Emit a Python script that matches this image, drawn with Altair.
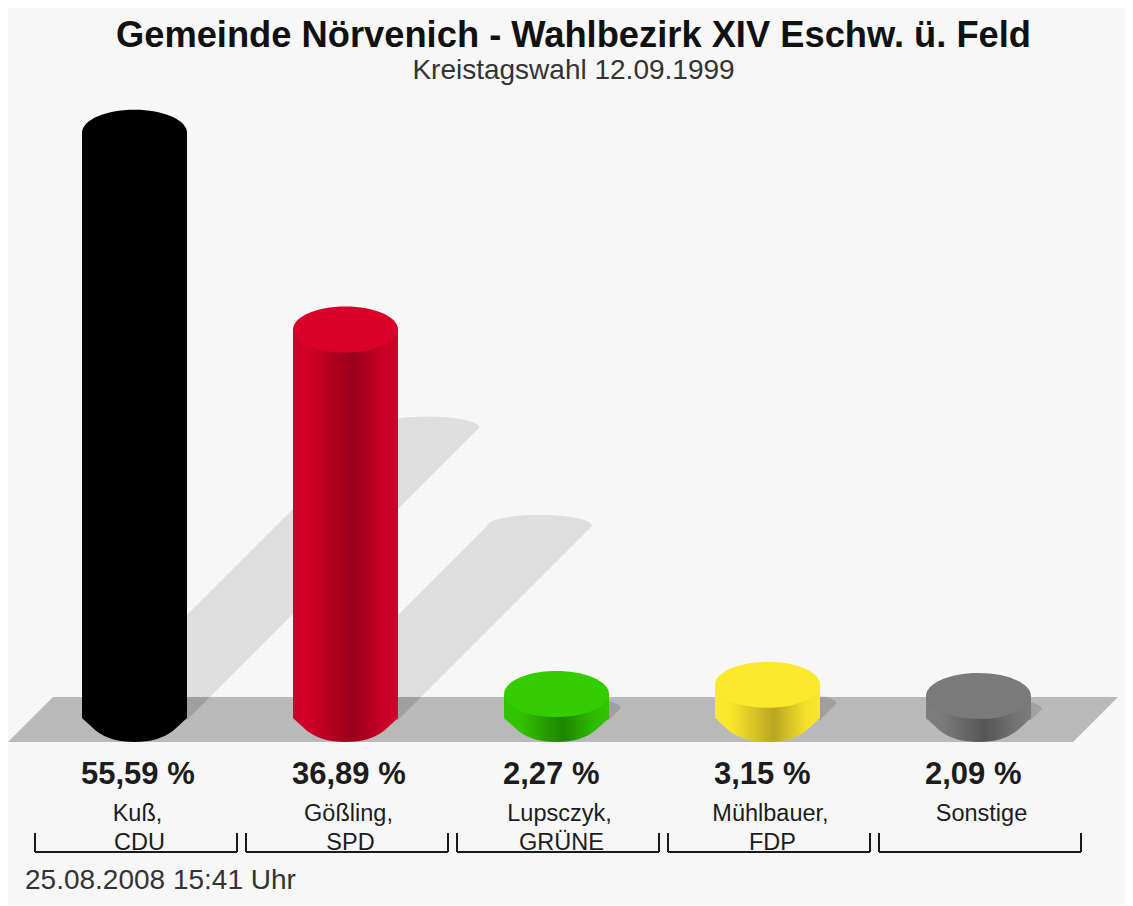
import altair as alt
import numpy as np
import pandas as pd

# --- chart values
names_1 = ["Kuß,", "Gößling,", "Lupsczyk,", "Mühlbauer,", "Sonstige"]
names_2 = ["CDU", "SPD", "GRÜNE", "FDP", ""]
percent = [55.59, 36.89, 2.27, 3.15, 2.09]
labels = ["55,59 %", "36,89 %", "2,27 %", "3,15 %", "2,09 %"]
top_colors = ["#000000", "#d90029", "#33cc00", "#fde92b", "#7a7a7a"]
side_light = ["#000000", "#d20028", "#33c400", "#fbe82c", "#7c7c7c"]
side_right = ["#000000", "#c80026", "#30bc00", "#f2e02a", "#747474"]
side_dark = ["#000000", "#98001a", "#1e8400", "#bba622", "#555555"]
title_text = "Gemeinde Nörvenich - Wahlbezirk XIV Eschw. ü. Feld"
subtitle_text = "Kreistagswahl 12.09.1999"
stamp_text = "25.08.2008 15:41 Uhr"

W, H = 1117, 897
PX_PER_IDX = 211.0
PX_PER_PCT = 10.53
X_DOMAIN = [-126.5 / PX_PER_IDX, (W - 126.5) / PX_PER_IDX]
Y_DOMAIN = [(710 - H) / PX_PER_PCT, 710 / PX_PER_PCT]
HALF_BAR = 52.5 / PX_PER_IDX
BASE = -2 / PX_PER_PCT           # centre of the cylinders' base
BODY_END = 0.0                   # where the straight sides of the cylinders stop
FLOOR_TOP = 21 / PX_PER_PCT
FLOOR_BOT = -24 / PX_PER_PCT
ELLIPSE = "M-1,0A1,0.438 0 1 1 1,0A1,0.438 0 1 1 -1,0Z"
BOTTOM = "M-1,-0.1L1,-0.1L1,-0.04L0.74,0.2Q0.46,0.42 0,0.42Q-0.46,0.42 -0.74,0.2L-1,-0.04Z"

x_scale = alt.Scale(domain=X_DOMAIN, range=[0, W], nice=False, zero=False)
y_scale = alt.Scale(domain=Y_DOMAIN, range=[H, 0], nice=False, zero=False)


def X(field):
    return alt.X(f"{field}:Q", scale=x_scale, axis=None)


def Y(field):
    return alt.Y(f"{field}:Q", scale=y_scale, axis=None, stack=None)


n = len(percent)
idx = list(range(n))


# --- shadow: bar-wide band running up and to the right, length in proportion to the value
def shadow(i, v, half=52.5, arc=11.0, k=5.26):
    cx, cy = i * PX_PER_IDX, -BASE * PX_PER_PCT
    d = v * k
    left, right = cx - half, cx + d + half
    xs = np.unique(np.concatenate([np.arange(left, right, 1.0), [right, cx + half, cx + d - half]]))
    rows = []
    for px in xs:
        if px >= cx + d - half:
            t = np.clip((px - (cx + d)) / half, -1, 1)
            upper = cy - d - arc * np.sqrt(1 - t * t)
        else:
            upper = cy - (px - left)
        lower = cy if px <= cx + half else cy - (px - cx - half)
        rows.append((i, px / PX_PER_IDX, -upper / PX_PER_PCT, -lower / PX_PER_PCT))
    return rows


shadow_df = pd.DataFrame(
    [r for i, v in enumerate(percent) for r in shadow(i, v)], columns=["g", "x", "y", "y2"]
)
floor_shadow_df = shadow_df[shadow_df.y2 < FLOOR_TOP].copy()
floor_shadow_df["y"] = floor_shadow_df["y"].clip(upper=FLOOR_TOP)

shadow_layer = alt.Chart(shadow_df).mark_area(color="#dedede").encode(
    x=X("x"), y=Y("y"), y2="y2:Q", detail="g:N"
)
floor_shadow_layer = alt.Chart(floor_shadow_df).mark_area(color="#a0a0a0").encode(
    x=X("x"), y=Y("y"), y2="y2:Q", detail="g:N"
)

# --- floor parallelogram
fx = [(px - 134.5) / PX_PER_IDX for px in (8, 53, 1073, 1118)]
floor_df = pd.DataFrame(
    {"x": fx, "y": [FLOOR_BOT, FLOOR_TOP, FLOOR_TOP, FLOOR_TOP], "y2": [FLOOR_BOT, FLOOR_BOT, FLOOR_BOT, FLOOR_TOP]}
)
floor_layer = alt.Chart(floor_df).mark_area(color="#b9b9b9").encode(x=X("x"), y=Y("y"), y2="y2:Q")

# --- cylinders
layers = [shadow_layer, floor_layer, floor_shadow_layer]
for i, v in enumerate(percent):
    grad = alt.Gradient(
        gradient="linear", x1=0, x2=1, y1=0, y2=0,
        stops=[
            alt.GradientStop(offset=0, color=side_light[i]),
            alt.GradientStop(offset=0.14, color=side_light[i]),
            alt.GradientStop(offset=0.56, color=side_dark[i]),
            alt.GradientStop(offset=0.86, color=side_right[i]),
            alt.GradientStop(offset=1, color=side_light[i]),
        ],
    )
    one = pd.DataFrame({
        "x": [float(i)], "x_l": [i - HALF_BAR], "x_r": [i + HALF_BAR],
        "y": [v], "base": [BASE], "body_end": [BODY_END],
    })
    layers.append(
        alt.Chart(one).mark_point(shape=BOTTOM, size=11025, filled=True, color=grad, opacity=1, strokeWidth=0)
        .encode(x=X("x"), y=Y("base"))
    )
    layers.append(
        alt.Chart(one).mark_rect(color=grad).encode(x=X("x_l"), x2="x_r:Q", y=Y("y"), y2="body_end:Q")
    )
    layers.append(
        alt.Chart(one).mark_point(shape=ELLIPSE, size=11025, filled=True, color=top_colors[i], opacity=1, strokeWidth=0)
        .encode(x=X("x"), y=Y("y"))
    )

# --- brackets
br = pd.DataFrame({
    "x": [i + 1.5 / PX_PER_IDX for i in idx],
    "x_l": [i + 1.5 / PX_PER_IDX - 101 / PX_PER_IDX for i in idx],
    "x_r": [i + 1.5 / PX_PER_IDX + 101 / PX_PER_IDX for i in idx],
})
BR_LOW = alt.value(844)
BR_HIGH = alt.value(825)
layers.append(alt.Chart(br).mark_rule(color="#1a1a1a", strokeWidth=2).encode(x=X("x_l"), x2="x_r:Q", y=BR_LOW))
for fld in ("x_l", "x_r"):
    layers.append(alt.Chart(br).mark_rule(color="#1a1a1a", strokeWidth=2).encode(x=X(fld), y=BR_HIGH, y2=BR_LOW))

# --- texts
txt = pd.DataFrame({
    "x": [i - HALF_BAR - 1 / PX_PER_IDX for i in idx],
    "xc": [i + 3 / PX_PER_IDX for i in idx],
    "xc2": [i + 5 / PX_PER_IDX for i in idx],
    "label": labels, "n1": names_1, "n2": names_2,
})
FONT = "Liberation Sans"
layers.append(alt.Chart(txt).mark_text(font=FONT, fontSize=31, fontWeight="bold", align="left", baseline="alphabetic", color="#1c1c1c")
              .encode(x=X("x"), y=alt.value(776), text="label:N"))
layers.append(alt.Chart(txt).mark_text(font=FONT, fontSize=23.5, align="center", baseline="alphabetic", color="#1c1c1c")
              .encode(x=X("xc"), y=alt.value(813), text="n1:N"))
layers.append(alt.Chart(txt).mark_text(font=FONT, fontSize=23.5, align="center", baseline="alphabetic", color="#1c1c1c")
              .encode(x=X("xc2"), y=alt.value(842), text="n2:N"))
stamp = pd.DataFrame({"t": [stamp_text]})
layers.append(alt.Chart(stamp).mark_text(font=FONT, fontSize=28, align="left", baseline="alphabetic", color="#333333")
              .encode(x=alt.value(17), y=alt.value(881), text="t:N"))

chart = alt.layer(*layers).properties(
    width=W,
    height=H,
    padding=0,
    autosize=alt.AutoSizeParams(type="none"),
    background="#f7f7f7",
    title=alt.TitleParams(
        text=title_text,
        subtitle=subtitle_text,
        font=FONT,
        fontSize=36.3,
        fontWeight="bold",
        color="#111111",
        subtitleFont=FONT,
        subtitleFontSize=28,
        subtitleColor="#333333",
        subtitlePadding=3,
        anchor="middle",
        frame="group",
        dx=7,
        dy=81,
    ),
).configure_view(stroke=None)

chart.save("out.html", embed_options={"renderer": "svg", "actions": False})
